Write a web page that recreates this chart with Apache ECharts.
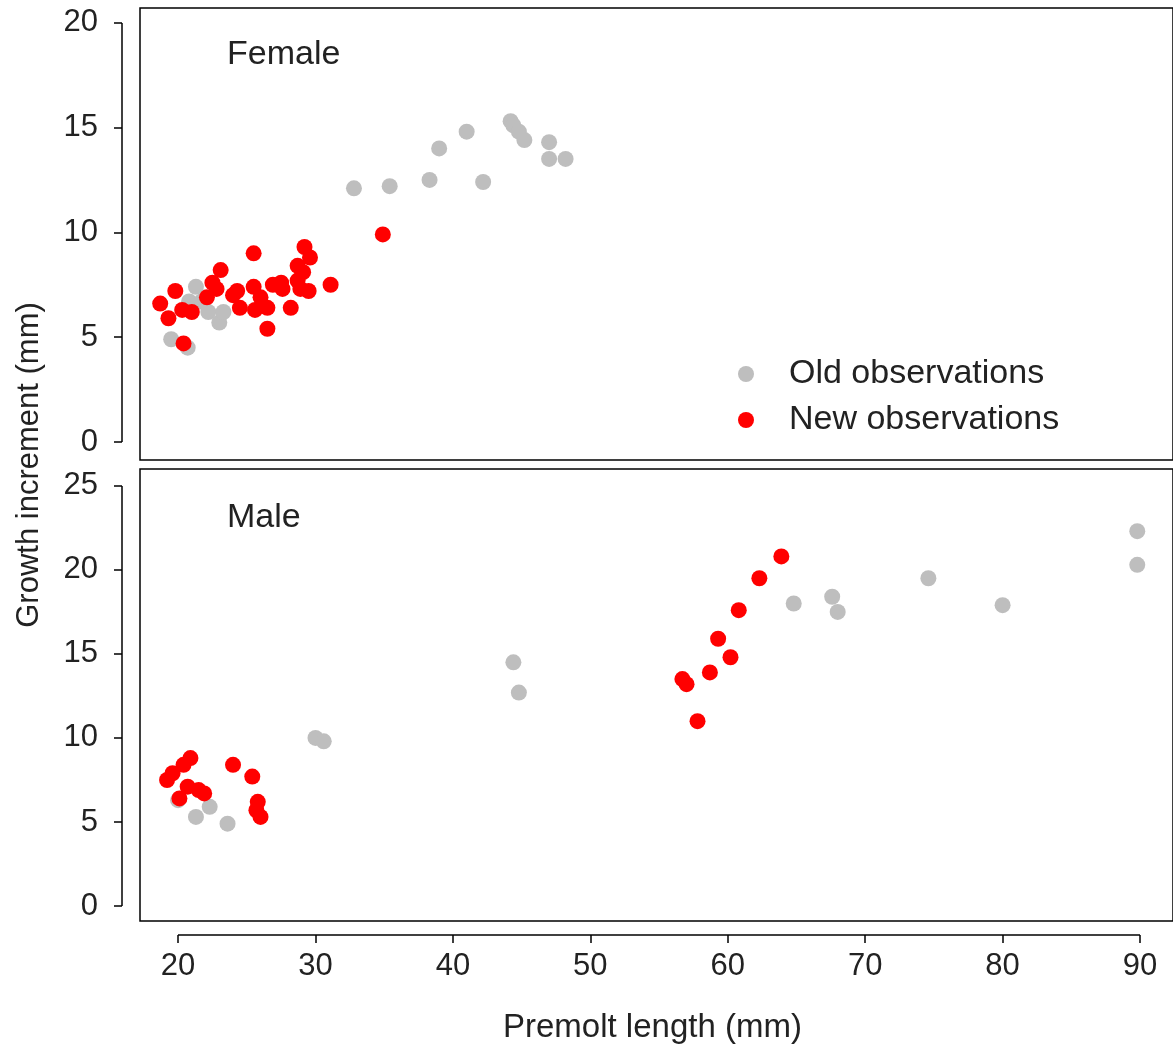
<!DOCTYPE html>
<html lang="en">
<head>
<meta charset="UTF-8">
<title>growth increment</title>
<script src="https://cdn.jsdelivr.net/npm/echarts@6/dist/echarts.min.js"></script>
<style>html,body{margin:0;background:#fff}#chart{width:1173px;height:1061px}</style>
</head>
<body>
<div id="chart"></div>
<script>
var femaleOld = [[19.5,4.9],[20.7,4.5],[20.8,6.7],[21.3,7.4],[21.7,6.7],[22.2,6.2],[23,5.7],[23.3,6.2],
  [32.8,12.1],[35.4,12.2],[38.3,12.5],[39,14],[41,14.8],[42.2,12.4],[44.2,15.3],[44.4,15.1],[44.8,14.8],
  [45.2,14.4],[47,14.3],[47,13.5],[48.2,13.5]]
var femaleNew = [[18.7,6.6],[19.8,7.2],[19.3,5.9],[20.3,6.3],[21.0,6.2],[20.4,4.7],[22.5,7.6],[22.8,7.3],
  [23.1,8.2],[22.1,6.9],[25.5,9.0],[24.3,7.2],[24.5,6.4],[25.5,7.4],[25.6,6.3],[26.5,5.4],[26.5,6.4],
  [26.9,7.5],[27.6,7.3],[28.2,6.4],[28.7,7.7],[29.1,8.1],[28.7,8.4],[29.2,9.3],[29.6,8.8],[29.5,7.2],
  [28.9,7.3],[31.1,7.5],[34.9,9.9],[27.5,7.6],[26,6.9],[24,7.0]]
var maleOld = [[20,6.3],[21.3,5.3],[22.3,5.9],[23.6,4.9],[30,10],[30.6,9.8],[44.4,14.5],[44.8,12.7],
  [64.8,18],[67.6,18.4],[68,17.5],[74.6,19.5],[80,17.9],[89.8,22.3],[89.8,20.3]]
var maleNew = [[19.2,7.5],[19.6,7.9],[20.4,8.4],[20.9,8.8],[20.1,6.4],[20.7,7.1],[21.5,6.9],[21.9,6.7],
  [24.0,8.4],[25.4,7.7],[25.8,6.2],[26,5.3],[25.7,5.7],[56.7,13.5],[57,13.2],[57.8,11],[58.7,13.9],
  [59.3,15.9],[60.2,14.8],[60.8,17.6],[62.3,19.5],[63.9,20.8]]
var xTicks = [20, 30, 40, 50, 60, 70, 80, 90]
var femaleTicks = [0, 5, 10, 15, 20]
var maleTicks = [0, 5, 10, 15, 20, 25]

var font = 'Liberation Sans, Arial, sans-serif'
var grey = '#bebebe', red = '#ff0000'
var xRange = { min: 17.23, max: 92.4 }

var yAx = function (idx, min, max, ticks) {
  return {
    gridIndex: idx, type: 'value', min: min, max: max, offset: 18,
    axisLine: { show: false },
    axisTick: { show: true, length: 8, customValues: ticks, lineStyle: { color: '#000', width: 1.5 } },
    axisLabel: { color: '#222', fontSize: 31, fontFamily: font, margin: 24, customValues: ticks },
    splitLine: { show: false }
  }
}
var sc = function (name, data, color, idx) {
  return { name: name, type: 'scatter', xAxisIndex: idx, yAxisIndex: idx, data: data,
    symbolSize: 16, itemStyle: { color: color, opacity: 1 } }
}

var option = {
  animation: false,
  grid: [
    { left: 140, top: 8, width: 1040, height: 452, show: true, borderColor: '#000', borderWidth: 1.5 },
    { left: 140, top: 469, width: 1040, height: 452, show: true, borderColor: '#000', borderWidth: 1.5 }
  ],
  xAxis: [
    { gridIndex: 0, type: 'value', min: xRange.min, max: xRange.max, show: false },
    { gridIndex: 1, type: 'value', min: xRange.min, max: xRange.max, offset: 14,
      axisLine: { show: false, onZero: false },
      axisTick: { show: true, length: 8, customValues: xTicks, lineStyle: { color: '#000', width: 1.5 } },
      axisLabel: { color: '#222', fontSize: 31, fontFamily: font, margin: 16, customValues: xTicks },
      splitLine: { show: false } }
  ],
  yAxis: [yAx(0, -0.86, 20.7, femaleTicks), yAx(1, -0.89, 26.0, maleTicks)],
  legend: {
    orient: 'vertical', left: 733, top: 352, itemGap: 12, icon: 'circle', itemWidth: 16, itemHeight: 16,
    textStyle: { fontSize: 34, fontFamily: font, color: '#222', padding: [0, 0, 0, 30] },
    data: ['Old observations', 'New observations']
  },
  graphic: [
    // R-style axis lines spanning only the tick range
    { type: 'line', shape: { x1: 122, y1: 23, x2: 122, y2: 442 }, style: { stroke: '#000', lineWidth: 1.5 } },
    { type: 'line', shape: { x1: 122, y1: 486, x2: 122, y2: 906 }, style: { stroke: '#000', lineWidth: 1.5 } },
    { type: 'line', shape: { x1: 178, y1: 935, x2: 1140, y2: 935 }, style: { stroke: '#000', lineWidth: 1.5 } },
    { type: 'text', left: 227, top: 38, style: { text: 'Female', fontSize: 34, fontFamily: font, fill: '#222' } },
    { type: 'text', left: 227, top: 501, style: { text: 'Male', fontSize: 34, fontFamily: font, fill: '#222' } },
    { type: 'text', x: 14, y: 465, rotation: Math.PI / 2,
      style: { text: 'Growth increment (mm)', fontSize: 31, fontFamily: font, fill: '#222', align: 'center', verticalAlign: 'top' } },
    { type: 'text', left: 503, top: 1011, style: { text: 'Premolt length (mm)', fontSize: 33, fontFamily: font, fill: '#222' } }
  ],
  series: [
    sc('Old observations', femaleOld, grey, 0),
    sc('New observations', femaleNew, red, 0),
    sc('Old observations', maleOld, grey, 1),
    sc('New observations', maleNew, red, 1)
  ]
}
var chart = echarts.init(document.getElementById('chart'))
chart.setOption(option)
</script>
</body>
</html>
